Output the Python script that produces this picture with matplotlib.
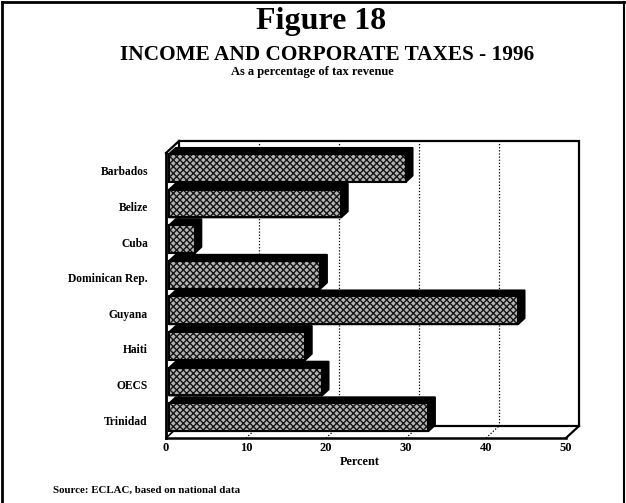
import matplotlib
matplotlib.use("Agg")
import matplotlib.pyplot as plt
from matplotlib.patches import Polygon
from matplotlib.lines import Line2D
import matplotlib.transforms as mtransforms

countries = ["Barbados", "Belize", "Cuba", "Dominican Rep.", "Guyana", "Haiti", "OECS", "Trinidad"]
shares = [29.6, 21.5, 3.2, 18.9, 43.6, 17.0, 19.1, 32.4]
x_ticks = [0, 10, 20, 30, 40, 50]
grid_values = [10, 20, 30, 40]

SERIF = ["Liberation Serif", "DejaVu Serif"]
DX, DY = 13, 12          # depth of the 3D box in pixels
BAR_FRONT, BAR_BACK = 0.25, 0.75
BAR_H = 0.78

plt.rcParams["hatch.linewidth"] = 1.0

fig = plt.figure(figsize=(6.26, 5.03), dpi=100)
W, H = 626, 503
# front plane of the 3D box
ax = fig.add_axes([166 / W, (H - 438) / H, 400 / W, 285 / H])
ax.set_xlim(0, 50)
ax.set_ylim(len(countries) - 0.5, -0.5)
ax.set_autoscale_on(False)
ax.patch.set_visible(False)
for s in ax.spines.values():
    s.set_visible(False)

ident = mtransforms.IdentityTransform()


def px(x, y, depth=0.0):
    X, Y = ax.transData.transform((x, y))
    return (X + DX * depth, Y + DY * depth)


def poly(points, **kw):
    p = Polygon(points, closed=True, transform=ident, clip_on=False, **kw)
    ax.add_patch(p)
    return p


def line(p0, p1, **kw):
    ax.add_line(Line2D([p0[0], p1[0]], [p0[1], p1[1]], transform=ident, clip_on=False, **kw))


top, bottom = -0.5, len(countries) - 0.5
dots = (0, (1, 1.5))

# back wall
poly([px(0, bottom, 1), px(50, bottom, 1), px(50, top, 1), px(0, top, 1)],
     facecolor="white", edgecolor="black", linewidth=1.6, zorder=1)
for g in grid_values:
    line(px(g, bottom, 1), px(g, top, 1), color="black", linewidth=0.9, linestyle=dots, zorder=2)
    line(px(g, bottom, 0), px(g, bottom, 1), color="black", linewidth=0.9, linestyle=dots, zorder=2)

# floor
line(px(0, bottom, 0), px(50, bottom, 0), color="black", linewidth=1.8, zorder=2)
line(px(50, bottom, 0), px(50, bottom, 1), color="black", linewidth=1.6, zorder=2)
line(px(0, bottom, 0), px(0, bottom, 1), color="black", linewidth=1.2, zorder=2)
# left wall
line(px(0, top, 0), px(0, bottom, 0), color="black", linewidth=2.0, zorder=2)
line(px(0, top, 0), px(0, top, 1), color="black", linewidth=1.6, zorder=2)

# bars, drawn bottom-up so upper bars cover lower top faces
n = len(countries)
for i in reversed(range(n)):
    v = shares[i]
    y0, y1 = i + BAR_H / 2, i - BAR_H / 2
    z = 3 + (n - i) * 2
    shape = [px(0, y0, BAR_FRONT), px(0, y1, BAR_FRONT), px(0, y1, BAR_BACK),
             px(v, y1, BAR_BACK), px(v, y0, BAR_BACK), px(v, y0, BAR_FRONT)]
    poly(shape, facecolor="black", edgecolor="black", linewidth=1.4, joinstyle="round", zorder=z)
    face = [px(0, y0, BAR_FRONT), px(0, y1, BAR_FRONT), px(v, y1, BAR_FRONT), px(v, y0, BAR_FRONT)]
    poly(face, facecolor="#b4b4b4", edgecolor="#151515", linewidth=0, hatch="xxxxx", zorder=z + 1)
    poly(face, facecolor="none", edgecolor="black", linewidth=1.5, zorder=z + 1)

ax.set_yticks(range(n))
ax.set_yticklabels(countries, fontfamily=SERIF, fontweight="bold", fontsize=8.3)
ax.set_xticks(x_ticks)
ax.set_xticklabels([str(t) for t in x_ticks], fontfamily=SERIF, fontweight="bold", fontsize=9)
ax.tick_params(axis="y", length=0, pad=13)
ax.tick_params(axis="x", length=0, pad=3)

fig.text(340 / W, 1 - 462 / H, "Percent", ha="left", va="center", fontfamily=SERIF,
         fontweight="bold", fontsize=8.8)

fig.text(321 / W, 1 - 22 / H, "Figure 18", ha="center", va="center",
         fontfamily=SERIF, fontweight="bold", fontsize=23)
fig.text(327 / W, 1 - 55 / H, "INCOME AND CORPORATE TAXES - 1996", ha="center", va="center",
         fontfamily=SERIF, fontweight="bold", fontsize=15.3)
fig.text(312 / W, 1 - 72 / H, "As a percentage of tax revenue", ha="center", va="center",
         fontfamily=SERIF, fontweight="bold", fontsize=9)
fig.text(53 / W, 1 - 490 / H, "Source: ECLAC, based on national data", ha="left", va="center",
         fontfamily=SERIF, fontweight="bold", fontsize=7.8)

# page border
fig.add_artist(Line2D([2 / W, 2 / W], [0, 1 - 2 / H], transform=fig.transFigure, color="black", linewidth=2))
fig.add_artist(Line2D([2 / W, 1 - 2 / W], [1 - 2 / H, 1 - 2 / H], transform=fig.transFigure, color="black", linewidth=2))
fig.add_artist(Line2D([1 - 2 / W, 1 - 2 / W], [0, 1 - 2 / H], transform=fig.transFigure, color="black", linewidth=1.5))

fig.savefig("out.png", dpi=100)
